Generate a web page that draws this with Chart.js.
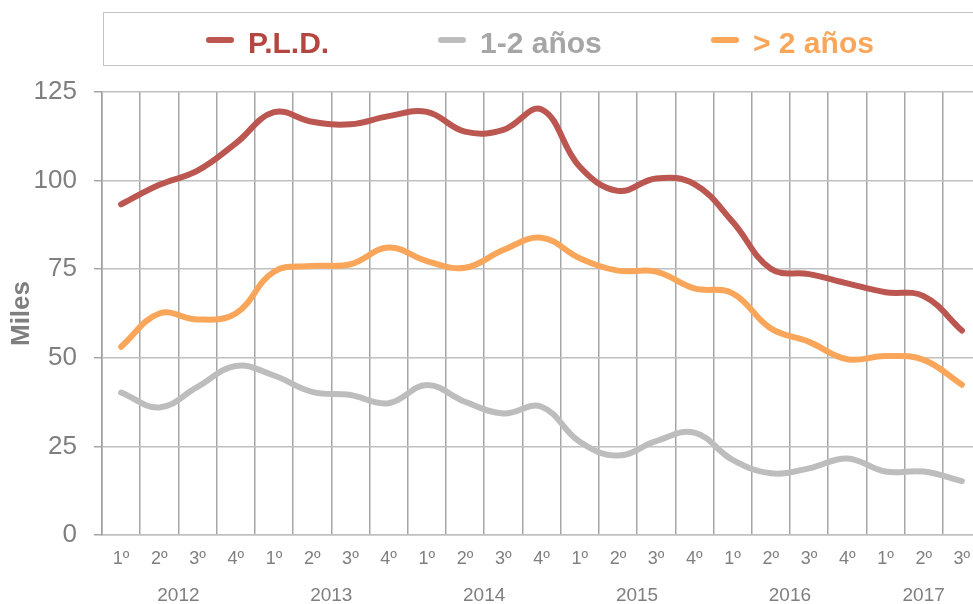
<!DOCTYPE html>
<html lang="es">
<head>
<meta charset="utf-8">
<title>P.L.D. por trimestre</title>
<script src="https://cdn.jsdelivr.net/npm/chart.js@4/dist/chart.umd.min.js"></script>
<style>
    html, body { margin: 0; padding: 0; background: #fff; overflow: hidden; }
    #wrap { position: relative; width: 973px; height: 604px; overflow: hidden; font-family: "Liberation Sans", Arial, sans-serif; }
    #chart-box { position: absolute; left: 0; top: 0; width: 1000px; height: 604px; }
    #legend-box { position: absolute; left: 103px; top: 12px; width: 900px; height: 54px; border: 1.5px solid #c4c4c4; box-sizing: border-box; }
    .lg-item { position: absolute; top: 0; height: 54px; }
    .lg-swatch { position: absolute; top: 24px; width: 28px; height: 6px; border-radius: 3px; }
    .lg-text { position: absolute; top: 15px; font-size: 30px; line-height: 30px; font-weight: bold; white-space: nowrap; }
</style>
</head>
<body>
<div id="wrap">
    <div id="chart-box"><canvas id="lineChart"></canvas></div>
    <div id="legend-box"></div>
</div>
<script>
// categories
const years = ['2012', '2013', '2014', '2015', '2016', '2017'];
const quartersPerYear = [4, 4, 4, 4, 4, 3];
const quarterNames = ['1º', '2º', '3º', '4º'];

// series (miles)
const pld = [93.3, 98.8, 102.8, 110.5, 119.3, 116.6, 115.9, 118.2, 119.4, 113.8, 114.3, 120.1,
             103.9, 97.1, 100.6, 99.0, 88.4, 75.1, 73.6, 71.0, 68.5, 67.4, 57.7];
const unoDos = [40.2, 36.0, 41.8, 47.7, 45.0, 40.4, 39.5, 37.2, 42.3, 37.6, 34.3, 36.2,
                26.3, 22.4, 26.5, 28.9, 21.2, 17.4, 18.8, 21.6, 17.9, 17.9, 15.2];
const masDos = [53.1, 62.5, 60.8, 62.5, 74.3, 75.9, 76.4, 81.1, 77.3, 75.4, 80.4, 83.9,
                78.1, 74.6, 74.3, 69.6, 68.2, 58.3, 54.5, 49.6, 50.5, 49.4, 42.4];

const yTicks = [0, 25, 50, 75, 100, 125];

// quarter labels + centre of every year group
const quarterLabels = [];
const yearCentres = [];
quartersPerYear.forEach(n => {
    const start = quarterLabels.length;
    for (let q = 0; q < n; q++) quarterLabels.push(quarterNames[q]);
    yearCentres.push(start + (n - 1) / 2);
});

const series = [
    { label: 'P.L.D.', data: pld, color: '#bc5650', text: '#b3463f', left: 102 },
    { label: '1-2 años', data: unoDos, color: '#bcbdbc', text: '#a6a6a6', left: 334 },
    { label: '> 2 años', data: masDos, color: '#f9a65a', text: '#f9a65a', left: 607 }
];

// html legend inside the bordered box
const legendBox = document.getElementById('legend-box');
series.forEach(s => {
    legendBox.innerHTML += `
        <div class="lg-item" style="left:${s.left}px">
            <div class="lg-swatch" style="left:0; background:${s.color}"></div>
            <div class="lg-text" style="left:42px; color:${s.text}">${s.label}</div>
        </div>`;
});

const gray = '#7f7f7f';
const ctx = document.getElementById('lineChart').getContext('2d');
new Chart(ctx, {
    type: 'line',
    data: {
        labels: quarterLabels,
        datasets: series.map(s => ({
            label: s.label,
            data: s.data,
            borderColor: s.color,
            backgroundColor: s.color,
            borderWidth: 6,
            borderCapStyle: 'round',
            borderJoinStyle: 'round',
            pointRadius: 0,
            tension: 0.4,
            fill: false
        }))
    },
    options: {
        responsive: true,
        maintainAspectRatio: false,
        animation: false,
        layout: { padding: { top: 92, right: 19, left: 0, bottom: 0 } },
        plugins: { legend: { display: false }, tooltip: { enabled: false } },
        scales: {
            x: {
                type: 'category',
                position: 'bottom',
                offset: true,
                grid: { offset: true, color: '#a6a6a6', lineWidth: 1.5, drawTicks: false },
                border: { display: true, color: '#c0c0c0', width: 1.5 },
                ticks: { color: gray, font: { size: 18, family: '"Liberation Sans", Arial' }, padding: 13, autoSkip: false, maxRotation: 0 },
                afterFit: scale => { scale.height = 40; }
            },
            years: {
                type: 'linear',
                position: 'bottom',
                min: -0.5,
                max: quarterLabels.length - 0.5,
                grid: { display: false, drawTicks: false },
                border: { display: false },
                afterBuildTicks: scale => { scale.ticks = yearCentres.map(v => ({ value: v })); },
                ticks: {
                    color: gray, font: { size: 19, family: '"Liberation Sans", Arial' }, padding: 9,
                    autoSkip: false, maxRotation: 0,
                    callback: (value, index) => years[index]
                },
                afterFit: scale => { scale.height = 29; }
            },
            y: {
                min: 0,
                max: 125,
                afterBuildTicks: scale => { scale.ticks = yTicks.map(v => ({ value: v })); },
                grid: { color: '#c0c0c0', lineWidth: 1.5, tickLength: 8, tickColor: '#a6a6a6' },
                border: { display: true, color: '#a0a0a0', width: 1.5 },
                ticks: { color: gray, font: { size: 26, family: '"Liberation Sans", Arial' }, padding: 17 },
                title: {
                    display: true,
                    text: 'Miles',
                    color: gray,
                    font: { size: 26, weight: 'bold', family: '"Liberation Sans", Arial' },
                    padding: { top: 6, bottom: 0 }
                },
                afterFit: scale => { scale.width = 102; }
            }
        }
    }
});
</script>
</body>
</html>
